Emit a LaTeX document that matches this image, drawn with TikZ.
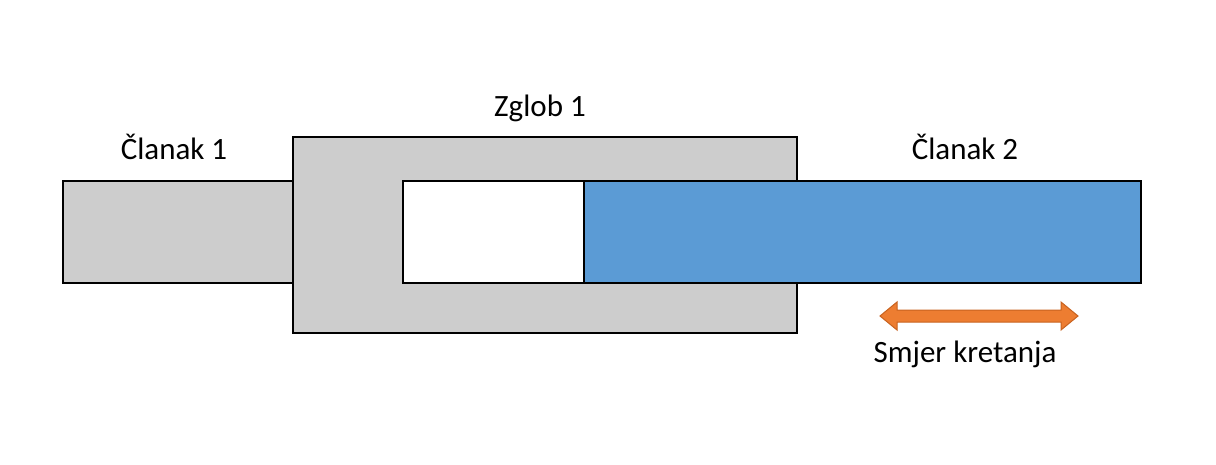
\documentclass[tikz,border=0pt]{standalone}
\usepackage{fontspec}
\setmainfont{Carlito}
\usetikzlibrary{positioning}
\definecolor{partgray}{HTML}{CDCDCD}
\definecolor{linkblue}{HTML}{5B9BD5}
\definecolor{moveorange}{HTML}{ED7D31}
\definecolor{edgeorange}{HTML}{C8621F}

\begin{document}
\begin{tikzpicture}[x=1pt, y=-1pt,
    part/.style={draw=black, line width=2.5pt, inner sep=0pt, outer sep=0pt},
    tag/.style={font=\fontsize{31}{37}\selectfont, anchor=base, inner sep=0pt}]
    \useasboundingbox (0,0) rectangle (1216,464);

    % Define links
    \node[part, fill=partgray, minimum width=230pt, minimum height=102pt] (L1) at (178,232) {};

    % Joint (C shape round the end of link 2)
    \draw[part, fill=partgray, line join=miter]
        (293,137) -- (797,137) -- (797,181) -- (403,181) -- (403,283)
        -- (797,283) -- (797,333) -- (293,333) -- cycle;
    \node[part, fill=linkblue, minimum width=557pt, minimum height=102pt] (L2) at (862.5,232) {};

    % Labels
    \node[tag] (T1) at (174,159) {Članak 1};
    \node[tag] (J1) at (540,116) {Zglob 1};
    \node[tag] (T2) at (965,159) {Članak 2};
    \node[tag] (M) at (965,362) {Smjer kretanja};

    % Direction of motion
    \coordinate (ML) at (880,316);
    \coordinate (MR) at (1078,316);
    \draw[fill=moveorange, draw=edgeorange, line width=1pt, line join=miter]
        (ML) -- ([shift={(17,-14)}]ML) -- ([shift={(17,-6)}]ML)
        -- ([shift={(-17,-6)}]MR) -- ([shift={(-17,-14)}]MR) -- (MR)
        -- ([shift={(-17,14)}]MR) -- ([shift={(-17,6)}]MR)
        -- ([shift={(17,6)}]ML) -- ([shift={(17,14)}]ML) -- cycle;

\end{tikzpicture}
\end{document}
